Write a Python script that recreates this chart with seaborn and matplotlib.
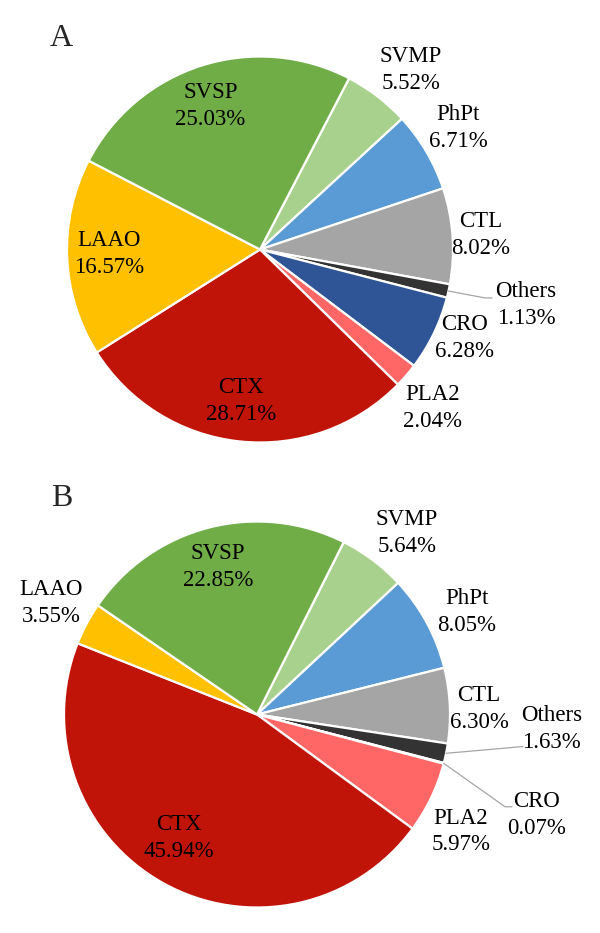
import numpy as np
import matplotlib
matplotlib.use("Agg")
import matplotlib.pyplot as plt
import seaborn as sns

# toxin families, clockwise from the top-right slice
categories = ["SVMP", "PhPt", "CTL", "Others", "CRO", "PLA2", "CTX", "LAAO", "SVSP"]
share_a = [5.52, 6.71, 8.02, 1.13, 6.28, 2.04, 28.71, 16.57, 25.03]
share_b = [5.64, 8.05, 6.30, 1.63, 0.07, 5.97, 45.94, 3.55, 22.85]

palette = ["#A9D18E", "#5B9BD5", "#A5A5A5", "#333333", "#2F5597",
           "#FF6666", "#C01408", "#FFC000", "#70AD47"]

# label centres, in pie radii from the pie centre (layout only)
label_pos_a = [(0.782, 0.930), (1.026, 0.630), (1.145, 0.075), (1.378, -0.288),
               (1.062, -0.459), (0.896, -0.821), (-0.098, -0.785), (-0.782, -0.023),
               (-0.256, 0.744)]
label_pos_b = [(0.775, 0.940), (1.088, 0.531), (1.150, 0.028), (1.528, -0.075),
               (1.451, -0.521), (1.057, -0.606), (-0.404, -0.640), (-1.067, 0.578),
               (-0.202, 0.764)]
leaders_a = {"Others": [(1.166, -0.251), (1.202, -0.251)]}
leaders_b = {"Others": [(1.378, -0.166)],
             "CRO": [(1.285, -0.478), (1.321, -0.478)]}

sns.set_style("white")
plt.rcParams["font.family"] = ["Liberation Serif", "DejaVu Serif"]

W, H, R = 600, 933, 193.0
fig = plt.figure(figsize=(W / 100, H / 100), dpi=100)


def draw_pie(top_px, height_px, cx, cy, values, start, label_pos, leaders, letter, letter_y):
    ax = fig.add_axes([0, 1 - (top_px + height_px) / H, 1, height_px / H])
    wedges, _ = ax.pie(values, colors=palette, startangle=start, counterclock=False,
                       radius=1, wedgeprops=dict(edgecolor="white", linewidth=1.6))
    for w, name, val, (lx, ly) in zip(wedges, categories, values, label_pos):
        ax.text(lx, ly, f"{name}\n{val:.2f}%", ha="center", va="center",
                fontsize=16.5, color="black", linespacing=1.35)
        if name in leaders:
            mid = np.deg2rad((w.theta1 + w.theta2) / 2)
            pts = [(np.cos(mid), np.sin(mid))] + leaders[name]
            xs, ys = zip(*pts)
            ax.plot(xs, ys, color="#A6A6A6", lw=0.9)
    ax.set_xlim(-cx / R, (W - cx) / R)
    ax.set_ylim(-(top_px + height_px - cy) / R, (cy - top_px) / R)
    ax.set_aspect("auto")
    ax.axis("off")
    fig.text(61.5 / W, 1 - letter_y / H, letter, ha="center", va="center", fontsize=23)


draw_pie(0, 466.5, 260, 249.5, share_a, 62.5, label_pos_a, leaders_a, "A", 38)
draw_pie(466.5, 466.5, 257, 714.5, share_b, 63.3, label_pos_b, leaders_b, "B", 498)

fig.savefig("out.png", dpi=100, facecolor="white")
